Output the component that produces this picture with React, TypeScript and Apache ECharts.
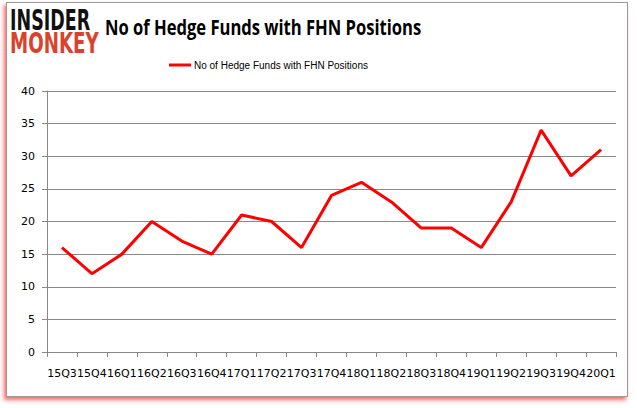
import React, { useEffect, useRef } from "react";
import * as echarts from "echarts";

const categories = ["15Q3","15Q4","16Q1","16Q2","16Q3","16Q4","17Q1","17Q2","17Q3","17Q4","18Q1","18Q2","18Q3","18Q4","19Q1","19Q2","19Q3","19Q4","20Q1"];
const hedgeFunds = [16, 12, 15, 20, 17, 15, 21, 20, 16, 24, 26, 23, 19, 19, 16, 23, 34, 27, 31];
const seriesName = "No of Hedge Funds with FHN Positions";
const titleText = "No of Hedge Funds with FHN Positions";

export default function App() {
  const ref = useRef<HTMLDivElement>(null);
  useEffect(() => {
    if (!ref.current) return;
    const chart = echarts.init(ref.current, null, { renderer: "svg" });
    chart.setOption({
      animation: false,
      backgroundColor: "transparent",
      legend: {
        data: [seriesName],
        top: 55,
        left: 164,
        itemWidth: 22,
        itemHeight: 3,
        itemGap: 4,
        icon: "rect",
        textStyle: { fontFamily: "Liberation Sans", fontSize: 10, color: "#000", padding: [0, 0, 0, -2] },
      },
      graphic: [
        {
          type: "text",
          left: 105,
          top: 17,
          scaleX: 0.79,
          style: { text: titleText, fontFamily: "Open Sans", fontWeight: "bold", fontSize: 21, fill: "#000" },
        },
        {
          type: "text",
          left: 10,
          top: 7,
          scaleX: 0.7,
          scaleY: 1.1,
          style: { text: "INSIDER", fontFamily: "DejaVu Sans", fontWeight: 900, fontSize: 25, fill: "#111" },
        },
        {
          type: "text",
          left: 10,
          top: 30,
          scaleX: 0.73,
          scaleY: 1.1,
          style: { text: "MONKEY", fontFamily: "DejaVu Sans", fontWeight: 900, fontSize: 25, fill: "#d9432b" },
        },
      ],
      grid: { left: 47, right: 21, top: 91, bottom: 56 },
      xAxis: {
        type: "category",
        data: categories,
        boundaryGap: true,
        axisLine: { lineStyle: { color: "#888" } },
        axisTick: { show: true, length: 5, lineStyle: { color: "#888" } },
        axisLabel: { interval: 0, margin: 16, fontFamily: "DejaVu Sans", fontSize: 11, color: "#000" },
      },
      yAxis: {
        type: "value",
        min: 0,
        max: 40,
        interval: 5,
        axisLine: { show: true, lineStyle: { color: "#888" } },
        axisTick: { show: true, length: 5, lineStyle: { color: "#888" } },
        splitLine: { lineStyle: { color: "#888" } },
        axisLabel: { margin: 12, fontFamily: "DejaVu Sans", fontSize: 11, color: "#000" },
      },
      series: [
        {
          name: seriesName,
          type: "line",
          data: hedgeFunds,
          symbol: "none",
          lineStyle: { color: "#ff0000", width: 3 },
          itemStyle: { color: "#ff0000" },
        },
      ],
    });
    return () => chart.dispose();
  }, []);
  return (
    <div style={{ position: "absolute", left: 0, top: 0, width: 637, height: 408, background: "#fff" }}>
      <div
        style={{
          position: "absolute",
          left: 6,
          top: 2,
          width: 620,
          height: 393,
          border: "1px solid #999",
          boxShadow: "-2px 3px 4px rgba(255,0,0,0.6)",
          background: "#fff",
        }}
      />
      <div ref={ref} style={{ position: "absolute", left: 0, top: 0, width: 637, height: 408 }} />
    </div>
  );
}
